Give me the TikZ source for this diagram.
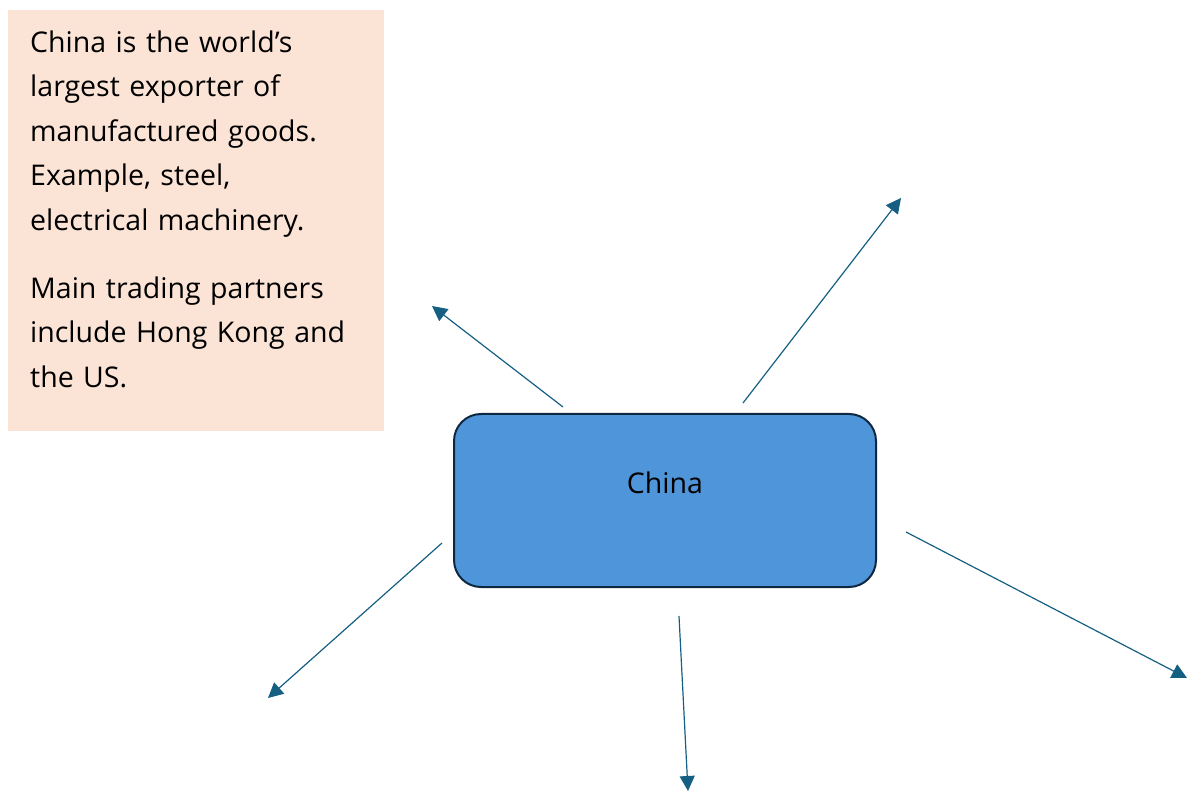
\documentclass[tikz,border=0pt]{standalone}
\usepackage{fontspec}
\setmainfont{Open Sans}
\usetikzlibrary{arrows.meta, positioning}
\definecolor{notefill}{HTML}{FBE3D6}
\definecolor{boxfill}{HTML}{4E95D9}
\definecolor{boxline}{HTML}{0E2841}
\definecolor{arrowcol}{HTML}{156082}

\begin{document}
\begin{tikzpicture}[
  x=1pt, y=-1pt,
  font=\fontsize{28.5}{44.6}\selectfont,
  arrow/.style={-{Triangle[length=15pt,width=15pt]}, color=arrowcol, line width=1.2pt},
  note/.style={rectangle, fill=notefill, align=left, text width=332pt,
               inner xsep=22pt, inner ysep=0pt, text height=42pt, text depth=379pt},
  box/.style={rectangle, rounded corners=27pt, draw=boxline, fill=boxfill, line width=2pt,
              minimum width=422pt, minimum height=173pt, text height=23pt, text depth=36pt}
]
\useasboundingbox (0,0) rectangle (1187,791);

\node[note, anchor=north west] (facts) at (8,10)
{China is the world’s\\largest exporter of\\manufactured goods.\\Example, steel,\\electrical machinery.\\[23pt]
Main trading partners\\include Hong Kong and\\the US.};

\node[box] (china) at (665,500.5) {China};

\coordinate (nwtail) at (563,407);  \coordinate (nwtip) at (432,306);
\coordinate (netail) at (743,403);  \coordinate (netip) at (901,198);
\coordinate (swtail) at (442,543);  \coordinate (swtip) at (268,698);
\coordinate (stail)  at (679,616);  \coordinate (stip)  at (688,791);
\coordinate (setail) at (906,532);  \coordinate (setip) at (1187,678);

\draw[arrow] (nwtail) -- (nwtip);
\draw[arrow] (netail) -- (netip);
\draw[arrow] (swtail) -- (swtip);
\draw[arrow] (stail) -- (stip);
\draw[arrow] (setail) -- (setip);

\end{tikzpicture}
\end{document}
